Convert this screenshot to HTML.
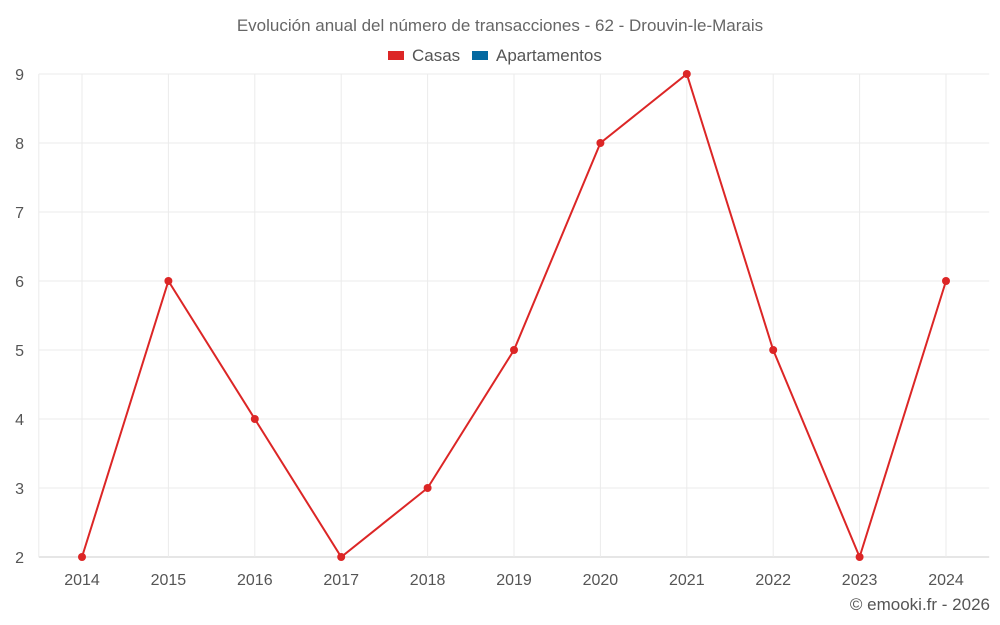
<!DOCTYPE html>
<html><head><meta charset="utf-8"><style>
body{margin:0;background:#fff;}
svg{display:block;font-family:"Liberation Sans",sans-serif;}
</style></head><body>
<svg id="chart" width="1000" height="625">
<text x="500" y="31" text-anchor="middle" font-size="17" fill="#666">Evolución anual del número de transacciones - 62 - Drouvin-le-Marais</text>
<g>
<g><rect x="388" y="51" width="16" height="9" fill="#dc2626"/><text x="412" y="61" font-size="17" fill="#555">Casas</text></g>
<g><rect x="472" y="51" width="16" height="9" fill="#0369a1"/><text x="496" y="61" font-size="17" fill="#555">Apartamentos</text></g>
</g>
<g id="grid"></g><g id="axes"></g><g id="series"></g>
<text x="990" y="610" text-anchor="end" font-size="17" fill="#555">© emooki.fr - 2026</text>
</svg>
<script>
const categories=["2014","2015","2016","2017","2018","2019","2020","2021","2022","2023","2024"];
const casas=[2,6,4,2,3,5,8,9,5,2,6];
const yTicks=[2,3,4,5,6,7,8,9];
const L=38.8,R=989.2,T=74,B=557,yMin=2,yMax=9;
const step=(R-L)/categories.length;
const x=i=>L+step*(i+0.5);
const y=v=>B-(v-yMin)/(yMax-yMin)*(B-T);
const NS="http://www.w3.org/2000/svg";
function mk(t,a,p){const e=document.createElementNS(NS,t);for(const k in a)e.setAttribute(k,a[k]);p.appendChild(e);return e;}
const g=document.getElementById('grid'),ax=document.getElementById('axes'),s=document.getElementById('series');
yTicks.forEach(v=>{
 const l=mk('line',{x1:L,x2:R,y1:y(v),y2:y(v),stroke:v===yMin?'#ccc':'#ebebeb','stroke-width':1},g);
 
 
 const t=mk('text',{x:24,y:y(v)+6,'text-anchor':'end','font-size':16,fill:'#555'},ax);t.textContent=v;
 
 
});
const l0=mk('line',{x1:L,x2:L,y1:T,y2:B,stroke:'#ebebeb'},g);


categories.forEach((c,i)=>{
 const l=mk('line',{x1:x(i),x2:x(i),y1:T,y2:B,stroke:'#ebebeb'},g);
 
 
 const t=mk('text',{x:x(i),y:585,'text-anchor':'middle','font-size':16,fill:'#555'},ax);t.textContent=c;
 
 
});
const p=mk('polyline',{points:casas.map((v,i)=>x(i)+','+y(v)).join(' '),fill:'none',stroke:'#dc2626','stroke-width':2},s);


casas.forEach((v,i)=>{
 const c=mk('circle',{cx:x(i),cy:y(v),r:4,fill:'#dc2626'},s);
 
 
});
</script>
</body></html>
